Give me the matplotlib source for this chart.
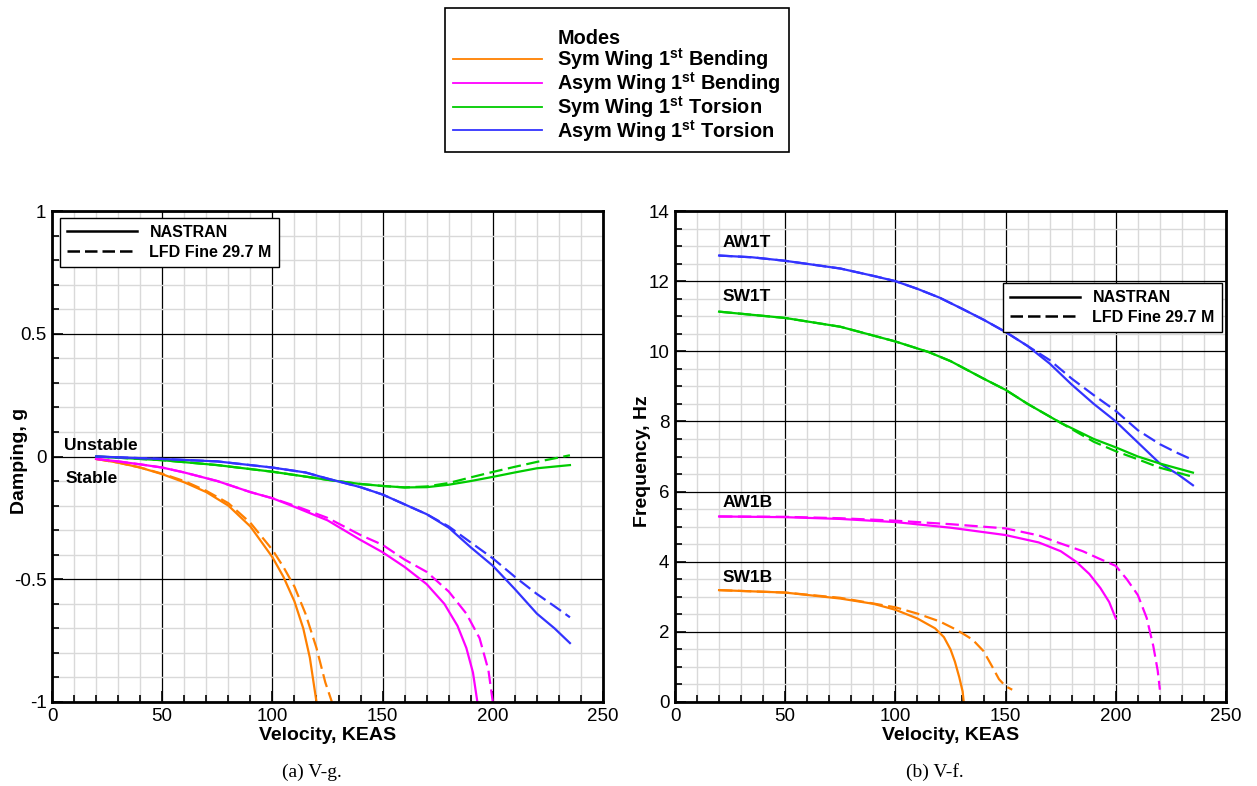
import numpy as np
import matplotlib
matplotlib.use("Agg")
import matplotlib.pyplot as plt
from matplotlib.lines import Line2D
from matplotlib.ticker import MultipleLocator

plt.rcParams['font.family'] = ['Liberation Sans', 'DejaVu Sans']
plt.rcParams['mathtext.fontset'] = 'custom'
plt.rcParams['mathtext.bf'] = 'Liberation Sans:bold'
plt.rcParams['mathtext.rm'] = 'Liberation Sans'

# colours of the four modes
ORANGE = '#ff8000'
MAGENTA = '#ff00ff'
GREEN = '#00cc00'
BLUE = '#3333ff'

# ---- V-g data (damping) ----
sw1b_g_v_nas = [20, 30, 40, 50, 60, 70, 80, 90, 100, 105, 110, 114, 117, 120]
sw1b_g_nas = [-0.01, -0.025, -0.045, -0.072, -0.105, -0.145, -0.2, -0.285, -0.41, -0.49, -0.59, -0.7, -0.82, -1.0]
sw1b_g_v_lfd = [20, 30, 40, 50, 60, 70, 80, 90, 100, 105, 110, 115, 120, 124, 127]
sw1b_g_lfd = [-0.01, -0.025, -0.045, -0.07, -0.1, -0.14, -0.19, -0.27, -0.38, -0.45, -0.53, -0.64, -0.78, -0.92, -1.0]

aw1b_g_v_nas = [20, 30, 40, 50, 60, 75, 90, 100, 110, 125, 140, 150, 160, 170, 178, 184, 188, 191, 193]
aw1b_g_nas = [-0.01, -0.02, -0.032, -0.045, -0.065, -0.1, -0.145, -0.17, -0.205, -0.26, -0.34, -0.39, -0.45, -0.52, -0.6, -0.69, -0.78, -0.88, -1.0]
aw1b_g_v_lfd = [20, 30, 40, 50, 60, 75, 90, 100, 110, 125, 140, 150, 160, 170, 180, 188, 194, 198, 200]
aw1b_g_lfd = [-0.01, -0.02, -0.032, -0.045, -0.065, -0.1, -0.145, -0.17, -0.2, -0.25, -0.32, -0.36, -0.42, -0.47, -0.55, -0.64, -0.74, -0.87, -1.0]

sw1t_g_v_nas = [20, 50, 75, 100, 125, 140, 150, 160, 170, 180, 190, 200, 210, 220, 235]
sw1t_g_nas = [0.0, -0.015, -0.035, -0.062, -0.095, -0.112, -0.12, -0.126, -0.125, -0.115, -0.1, -0.083, -0.065, -0.048, -0.035]
sw1t_g_v_lfd = [20, 50, 75, 100, 125, 140, 150, 160, 170, 180, 190, 200, 210, 220, 235]
sw1t_g_lfd = [0.0, -0.015, -0.035, -0.062, -0.095, -0.112, -0.12, -0.126, -0.122, -0.108, -0.085, -0.063, -0.042, -0.022, 0.005]

aw1t_g_v_nas = [20, 50, 75, 100, 115, 125, 140, 150, 160, 170, 180, 190, 200, 210, 220, 228, 235]
aw1t_g_nas = [0.0, -0.01, -0.02, -0.045, -0.065, -0.09, -0.125, -0.155, -0.195, -0.235, -0.29, -0.37, -0.445, -0.54, -0.64, -0.7, -0.76]
aw1t_g_v_lfd = [20, 50, 75, 100, 115, 125, 140, 150, 160, 170, 180, 190, 200, 210, 220, 228, 235]
aw1t_g_lfd = [0.0, -0.01, -0.02, -0.045, -0.065, -0.09, -0.125, -0.155, -0.195, -0.235, -0.285, -0.35, -0.415, -0.49, -0.56, -0.61, -0.655]

# ---- V-f data (frequency) ----
aw1t_f_v_nas = [20, 35, 50, 75, 90, 100, 110, 120, 130, 140, 150, 160, 170, 180, 190, 200, 210, 220, 228, 235]
aw1t_f_nas = [12.73, 12.68, 12.58, 12.36, 12.15, 12.0, 11.78, 11.53, 11.22, 10.9, 10.55, 10.15, 9.65, 9.05, 8.5, 8.0, 7.4, 6.8, 6.5, 6.18]
aw1t_f_v_lfd = [20, 35, 50, 75, 90, 100, 110, 120, 130, 140, 150, 160, 170, 180, 190, 200, 210, 220, 228, 235]
aw1t_f_lfd = [12.73, 12.68, 12.58, 12.36, 12.15, 12.0, 11.78, 11.53, 11.22, 10.9, 10.55, 10.15, 9.75, 9.22, 8.75, 8.3, 7.75, 7.35, 7.1, 6.9]

sw1t_f_v_nas = [20, 50, 75, 100, 115, 125, 140, 150, 160, 175, 190, 200, 210, 220, 235]
sw1t_f_nas = [11.13, 10.95, 10.7, 10.28, 9.98, 9.72, 9.22, 8.9, 8.5, 7.96, 7.5, 7.26, 7.0, 6.8, 6.54]
sw1t_f_v_lfd = [20, 50, 75, 100, 115, 125, 140, 150, 160, 175, 190, 200, 210, 220, 235]
sw1t_f_lfd = [11.13, 10.95, 10.7, 10.28, 9.98, 9.72, 9.22, 8.9, 8.5, 7.96, 7.42, 7.15, 6.92, 6.68, 6.42]

aw1b_f_v_nas = [20, 50, 75, 100, 125, 150, 165, 175, 182, 188, 193, 197, 200]
aw1b_f_nas = [5.29, 5.27, 5.22, 5.13, 4.97, 4.76, 4.55, 4.3, 4.0, 3.65, 3.25, 2.85, 2.38]
aw1b_f_v_lfd = [20, 50, 75, 100, 125, 150, 165, 175, 185, 192, 200, 205, 210, 214, 217, 219, 220]
aw1b_f_lfd = [5.29, 5.28, 5.24, 5.17, 5.07, 4.95, 4.75, 4.52, 4.3, 4.1, 3.88, 3.5, 3.05, 2.4, 1.6, 0.9, 0.35]

sw1b_f_v_nas = [20, 50, 75, 90, 100, 110, 118, 122, 125, 127, 129, 130.5, 131]
sw1b_f_nas = [3.19, 3.12, 2.95, 2.8, 2.63, 2.38, 2.1, 1.85, 1.5, 1.15, 0.7, 0.3, 0.0]
sw1b_f_v_lfd = [20, 50, 75, 100, 110, 120, 128, 135, 140, 144, 147, 150, 153]
sw1b_f_lfd = [3.19, 3.12, 2.97, 2.7, 2.52, 2.3, 2.05, 1.78, 1.45, 1.0, 0.65, 0.45, 0.35]

mode_names = ['Sym Wing 1$^{\\mathbf{st}}$ Bending', 'Asym Wing 1$^{\\mathbf{st}}$ Bending',
              'Sym Wing 1$^{\\mathbf{st}}$ Torsion', 'Asym Wing 1$^{\\mathbf{st}}$ Torsion']
mode_colors = [ORANGE, MAGENTA, GREEN, BLUE]
freq_tags = ['AW1T', 'SW1T', 'AW1B', 'SW1B']
freq_tag_y = [13.1, 11.55, 5.7, 3.55]

W, H = 1257, 786
fig = plt.figure(figsize=(W / 100, H / 100), dpi=100)

ax1 = fig.add_axes([52 / W, 1 - 702 / H, 551 / W, 491 / H])
ax2 = fig.add_axes([675 / W, 1 - 702 / H, 551 / W, 491 / H])

DASH = (6, 2.5)
LW = 1.6


def style_axes(ax, ymaj, ymin):
    ax.set_xlim(0, 250)
    ax.xaxis.set_major_locator(MultipleLocator(50))
    ax.xaxis.set_minor_locator(MultipleLocator(10))
    ax.yaxis.set_major_locator(MultipleLocator(ymaj))
    ax.yaxis.set_minor_locator(MultipleLocator(ymin))
    ax.set_axisbelow(True)
    ax.grid(which='minor', color='#d9d9d9', lw=1.0)
    ax.grid(which='major', color='black', lw=0.9)
    ax.tick_params(which='both', direction='in', top=False, right=False,
                   labelsize=13.5, width=1.2, pad=4)
    ax.tick_params(which='major', length=8)
    ax.tick_params(which='minor', length=5)
    for s in ax.spines.values():
        s.set_linewidth(2)
    ax.set_xlabel('Velocity, KEAS', fontsize=14, fontweight='bold')
    ax.xaxis.set_label_coords(0.5, -0.05)
    ax.yaxis.set_label_coords(-0.044, 0.49)


# V-g
ax1.plot(sw1b_g_v_nas, sw1b_g_nas, color=ORANGE, lw=LW)
ax1.plot(sw1b_g_v_lfd, sw1b_g_lfd, color=ORANGE, lw=LW, dashes=DASH)
ax1.plot(aw1b_g_v_nas, aw1b_g_nas, color=MAGENTA, lw=LW)
ax1.plot(aw1b_g_v_lfd, aw1b_g_lfd, color=MAGENTA, lw=LW, dashes=DASH)
ax1.plot(sw1t_g_v_nas, sw1t_g_nas, color=GREEN, lw=LW)
ax1.plot(sw1t_g_v_lfd, sw1t_g_lfd, color=GREEN, lw=LW, dashes=DASH)
ax1.plot(aw1t_g_v_nas, aw1t_g_nas, color=BLUE, lw=LW)
ax1.plot(aw1t_g_v_lfd, aw1t_g_lfd, color=BLUE, lw=LW, dashes=DASH)
ax1.set_ylim(-1, 1)
ax1.set_ylabel('Damping, g', fontsize=14, fontweight='bold')
style_axes(ax1, 0.5, 0.1)
ax1.set_yticks([-1, -0.5, 0, 0.5, 1])
ax1.set_yticklabels(['-1', '-0.5', '0', '0.5', '1'])
ax1.text(5.5, 0.045, 'Unstable', fontsize=12.5, fontweight='bold', va='center')
ax1.text(6, -0.09, 'Stable', fontsize=12.5, fontweight='bold', va='center')

# V-f
ax2.plot(aw1t_f_v_nas, aw1t_f_nas, color=BLUE, lw=LW)
ax2.plot(aw1t_f_v_lfd, aw1t_f_lfd, color=BLUE, lw=LW, dashes=DASH)
ax2.plot(sw1t_f_v_nas, sw1t_f_nas, color=GREEN, lw=LW)
ax2.plot(sw1t_f_v_lfd, sw1t_f_lfd, color=GREEN, lw=LW, dashes=DASH)
ax2.plot(aw1b_f_v_nas, aw1b_f_nas, color=MAGENTA, lw=LW)
ax2.plot(aw1b_f_v_lfd, aw1b_f_lfd, color=MAGENTA, lw=LW, dashes=DASH)
ax2.plot(sw1b_f_v_nas, sw1b_f_nas, color=ORANGE, lw=LW)
ax2.plot(sw1b_f_v_lfd, sw1b_f_lfd, color=ORANGE, lw=LW, dashes=DASH)
ax2.set_ylim(0, 14)
ax2.set_ylabel('Frequency, Hz', fontsize=14, fontweight='bold')
style_axes(ax2, 2, 0.5)
for tag, ty in zip(freq_tags, freq_tag_y):
    ax2.text(21.5, ty, tag, fontsize=12.5, fontweight='bold', va='center')

# method legends
method_handles = [Line2D([], [], color='black', lw=1.8),
                  Line2D([], [], color='black', lw=1.8, dashes=(5, 2))]
method_labels = ['NASTRAN', 'LFD Fine 29.7 M']
leg_kw = dict(frameon=True, fancybox=False, edgecolor='black', framealpha=1,
              borderaxespad=0, handlelength=4.4, handletextpad=0.75,
              labelspacing=0.3, borderpad=0.45,
              prop={'weight': 'bold', 'size': 11.5})
l1 = ax1.legend(method_handles, method_labels, loc='upper left',
                bbox_to_anchor=(0.0145, 0.986), **leg_kw)
l2 = ax2.legend(method_handles, method_labels, loc='upper right',
                bbox_to_anchor=(0.9927, 0.8534), **leg_kw)
for lg in (l1, l2):
    lg.get_frame().set_linewidth(1.0)

# mode legend at top
mode_handles = [Line2D([], [], color='none')] + [Line2D([], [], color=c, lw=1.3) for c in mode_colors]
mode_labels = ['Modes'] + mode_names
fl = fig.legend(mode_handles, mode_labels, loc='upper left',
                bbox_to_anchor=(445 / W, 1 - 8 / H), frameon=True, fancybox=False,
                edgecolor='black', framealpha=1, handlelength=4.5, handletextpad=0.75,
                labelspacing=-0.1, borderpad=0.4, borderaxespad=0,
                title=' ', title_fontsize=11.5,
                prop={'weight': 'bold', 'size': 14.3})
fl.get_frame().set_linewidth(1.2)

# captions
fig.text(312 / W, 1 - 772 / H, '(a) V-g.', family=['Liberation Serif', 'DejaVu Serif'],
         fontsize=14, ha='center', va='center')
fig.text(935 / W, 1 - 772 / H, '(b) V-f.', family=['Liberation Serif', 'DejaVu Serif'],
         fontsize=14, ha='center', va='center')

fig.savefig('out.png', dpi=100)
